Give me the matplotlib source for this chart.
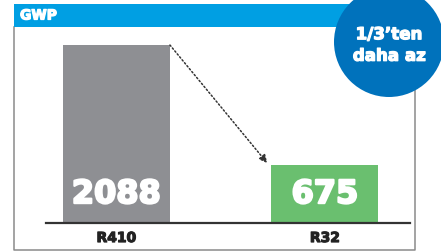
import matplotlib
matplotlib.use('Agg')
import matplotlib.pyplot as plt
import matplotlib.patheffects as pe
from matplotlib.patches import Rectangle, Circle

# Data
categories = ['R410', 'R32']
gwp_values = [2088, 675]
bar_colors = ['#8e8f93', '#6abf6f']
header_text = 'GWP'
badge_text = '1/3\u2019ten\ndaha az'

W, H = 441, 252

def fx(px):
    return px / W

def fy(py):
    return 1 - py / H

def heavy(color, lw=1.0):
    # fake a black weight by stroking bold glyphs
    return [pe.withStroke(linewidth=lw, foreground=color)]

fig = plt.figure(figsize=(W / 100, H / 100), dpi=100)
fig.patch.set_facecolor('white')

# frame around the panel
fig.add_artist(plt.Line2D([fx(14), fx(14), fx(415), fx(415)],
                          [fy(27), fy(250), fy(250), fy(27)],
                          color='#8a8a8a', lw=1.1, zorder=1))

# blue header
fig.add_artist(Rectangle((fx(14), fy(27)), fx(415) - fx(14), fy(4) - fy(27),
                         transform=fig.transFigure, color='#009fe3', lw=0, zorder=2))
fig.text(fx(20), fy(15.5), header_text, color='white', fontsize=10,
         fontweight='bold', va='center', ha='left', zorder=3,
         path_effects=heavy('white', 0.9))

# bars
ax = fig.add_axes([fx(46), fy(222.7), fx(410) - fx(46), fy(27) - fy(222.7)])
x = [0, 1]
w = 0.513
ax.bar(x, gwp_values, width=w, color=bar_colors, zorder=2)
ax.set_xlim(-0.338, 1.408)
ax.set_ylim(0, 2300)

for xi, v in zip(x, gwp_values):
    ax.text(xi, 28 / 177 * 2088, str(v), color='white', fontsize=23,
            fontweight='bold', ha='center', va='center', zorder=3,
            path_effects=heavy('white', 1.6))

ax.annotate('', xy=(1 - w / 2 - 0.02, gwp_values[1] + 25),
            xytext=(w / 2, gwp_values[0]),
            arrowprops=dict(arrowstyle='-|>', linestyle=(0, (1, 1.5)), lw=1.1,
                            color='#333333', mutation_scale=12,
                            shrinkA=0, shrinkB=0))

ax.set_xticks(x)
ax.set_xticklabels(categories, fontsize=10, fontweight='bold', color='#222222')
for t in ax.get_xticklabels():
    t.set_path_effects(heavy('#222222', 0.8))
ax.tick_params(axis='x', length=0, pad=6)
ax.set_yticks([])
for s in ['top', 'left', 'right']:
    ax.spines[s].set_visible(False)
ax.spines['bottom'].set_color('#333333')
ax.spines['bottom'].set_linewidth(1.6)
ax.patch.set_alpha(0)

# badge
fig.add_artist(Circle((3.89, (H - 42) / 100), 0.55, transform=fig.dpi_scale_trans,
                      color='#0072bc', lw=0, zorder=5))
fig.text(fx(389), fy(45), badge_text, color='white', fontsize=12,
         fontweight='bold', ha='center', va='center', linespacing=1.25, zorder=6,
         path_effects=heavy('white', 0.9))

fig.savefig('out.png', dpi=100)
